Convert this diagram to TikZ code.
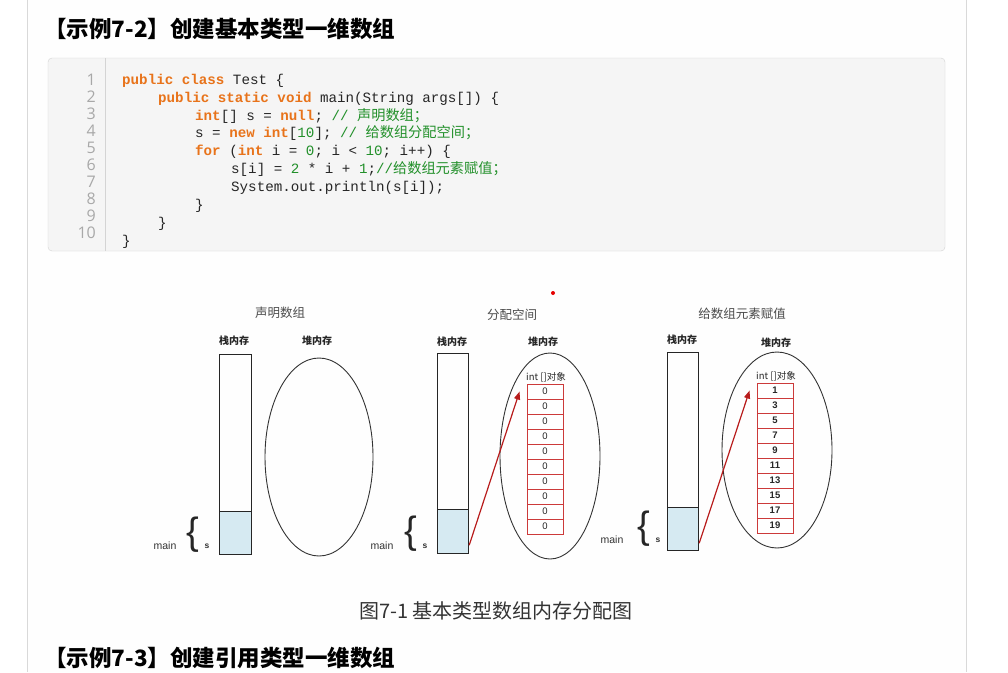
\documentclass[tikz,border=0pt]{standalone}
\usepackage{fontspec}
\setmainfont{Liberation Sans}
\newfontfamily\cjk{Noto Sans CJK SC}
\newfontfamily\codefont{Liberation Mono}
\newfontfamily\numfont{Open Sans}
\usetikzlibrary{arrows.meta,shapes.geometric}
\definecolor{kwc}{HTML}{E8731A}
\definecolor{cmc}{HTML}{22902A}
\definecolor{cellred}{HTML}{CC3A3A}
\definecolor{arrowred}{HTML}{B81C1C}
\definecolor{stackblue}{HTML}{D6EAF2}
\definecolor{codebg}{HTML}{F5F5F5}
\definecolor{codeborder}{HTML}{D4D4D4}
\definecolor{lnum}{HTML}{A8A8A8}
\definecolor{pagebg}{HTML}{FEFEFE}
\newcommand\kwd[1]{{\bfseries\color{kwc}#1}}
\newcommand\cmt[1]{{\color{cmc}#1}}
\tikzset{
  codeline/.style={anchor=base west, inner sep=0pt, font=\codefont\fontsize{14.2}{14.2}\selectfont, text=black!85},
  linenum/.style={anchor=base east, inner sep=0pt, font=\numfont\fontsize{16}{16}\selectfont, text=lnum},
  heading/.style={anchor=west, inner sep=0pt, font=\cjk\bfseries\fontsize{22.5}{22.5}\selectfont},
  ptitle/.style={inner sep=0pt, font=\cjk\fontsize{12.5}{12.5}\selectfont, text=black!70},
  memlabel/.style={inner sep=0pt, font=\cjk\bfseries\fontsize{10}{10}\selectfont, text=black!85},
  stackbox/.style={draw=black!85, line width=1.2pt, minimum width=32pt, minimum height=200pt, anchor=north west, inner sep=0pt},
  scell/.style={draw=black!85, line width=1.2pt, fill=stackblue, minimum width=32pt, minimum height=43pt, anchor=south west, inner sep=0pt},
  heap/.style={draw=black!80, line width=0.9pt, ellipse, inner sep=0pt},
  objlabel/.style={inner sep=0pt, font=\fontsize{9.5}{9.5}\selectfont\cjk, text=black!85},
  cell/.style={draw=cellred, line width=0.9pt, fill=white, minimum width=36pt, minimum height=15pt, inner sep=0pt, font=\bfseries\fontsize{9.5}{9.5}\selectfont, text=black!85},
  smalltxt/.style={inner sep=0pt, font=\fontsize{10.5}{10.5}\selectfont, text=black!80},
  svar/.style={inner sep=0pt, font=\bfseries\fontsize{8.5}{8.5}\selectfont, text=black!80},
  bracetxt/.style={inner sep=0pt, font=\fontsize{38}{38}\selectfont, text=black!85},
  refarrow/.style={draw=arrowred, line width=1.2pt, -{Triangle[length=8pt,width=6pt]}},
}
\begin{document}
\begin{tikzpicture}[x=1pt,y=-1pt]
\useasboundingbox (0,0) rectangle (1008,672);
\fill[white] (0,0) rectangle (1008,672);
\fill[pagebg] (27,0) rectangle (966,672);
\draw[black!15] (27,0) -- (27,672);
\draw[black!15] (966,0) -- (966,672);

% heading
\node[heading] (h1) at (44,29) {【示例7-2】创建基本类型一维数组};

% code box
\filldraw[fill=codebg, draw=codeborder, rounded corners=4pt] (48,58) rectangle (945,251);
\draw[codeborder] (105,58) -- (105,251);
\foreach \n [count=\i from 0] in {1,...,10}
  \node[linenum] (ln\n) at (96,85+17*\i) {\n};

\node[codeline] (c1) at (122,84) {\kwd{public class} Test \{};
\node[codeline] (c2) at (158,102) {\kwd{public static void} main(String args[]) \{};
\node[codeline] (c3) at (195,120) {\kwd{int}[] s = \kwd{null}; \cmt{// {\cjk 声明数组；}}};
\node[codeline] (c4) at (195,137.5) {s = \kwd{new int}[\cmt{10}]; \cmt{// {\cjk 给数组分配空间；}}};
\node[codeline] (c5) at (195,155.5) {\kwd{for} (\kwd{int} i = \cmt{0}; i < \cmt{10}; i++) \{};
\node[codeline] (c6) at (231,173) {s[i] = \cmt{2} * i + \cmt{1};\cmt{//{\cjk 给数组元素赋值；}}};
\node[codeline] (c7) at (231,191) {System.out.println(s[i]);};
\node[codeline] (c8) at (195,209) {\}};
\node[codeline] (c9) at (158,227) {\}};
\node[codeline] (c10) at (122,245) {\}};

% red dot
\fill[red!90!black] (553,293) circle (2pt);

% ---------- panel 1 ----------
\node[ptitle] (t1) at (280,313) {声明数组};
\node[memlabel] (sl1) at (234,341) {栈内存};
\node[memlabel] (hl1) at (317,341) {堆内存};
\node[stackbox] (st1) at (219,354) {};
\node[scell] (s1) at (st1.south west) {};
\node[heap, minimum width=108pt, minimum height=198pt] (hp1) at (319,457) {};
\node[smalltxt] (m1) at (165,546) {main};
\node[bracetxt] (b1) at (193,535) {\{};
\node[svar] (v1) at (207,546) {s};

% ---------- panel 2 ----------
\node[ptitle] (t2) at (512,315) {分配空间};
\node[memlabel] (sl2) at (452,342) {栈内存};
\node[memlabel] (hl2) at (543,342) {堆内存};
\node[stackbox, minimum width=31pt, minimum height=200pt] (st2) at (437,353) {};
\node[scell, minimum width=31pt, minimum height=44pt] (s2) at (st2.south west) {};
\node[heap, minimum width=100pt, minimum height=206pt] (hp2) at (550,456) {};
\node[objlabel] (o2) at (546,377) {int []对象};
\foreach \v [count=\i] in {0,0,0,0,0,0,0,0,0,0}
  \node[cell, font=\fontsize{9.5}{9.5}\selectfont] (a2-\i) at (545,376.5+15*\i) {\v};
\node[smalltxt] (m2) at (382,546) {main};
\node[bracetxt] (b2) at (411,534) {\{};
\node[svar] (v2) at (425,546) {s};
\draw[refarrow] ([yshift=9pt]s2.south east) -- ([xshift=-7pt,yshift=-8pt]a2-1.north west);

% ---------- panel 3 ----------
\node[ptitle] (t3) at (742,314) {给数组元素赋值};
\node[memlabel] (sl3) at (682,340) {栈内存};
\node[memlabel] (hl3) at (776,343) {堆内存};
\node[stackbox, minimum width=31pt, minimum height=198pt] (st3) at (667,352) {};
\node[scell, minimum width=31pt, minimum height=43pt] (s3) at (st3.south west) {};
\node[heap, minimum width=110pt, minimum height=196pt] (hp3) at (777,450) {};
\node[objlabel] (o3) at (776,376) {int []对象};
\foreach \v [count=\i] in {1,3,5,7,9,11,13,15,17,19}
  \node[cell] (a3-\i) at (775,375.5+15*\i) {\v};
\node[smalltxt] (m3) at (612,540) {main};
\node[bracetxt] (b3) at (644,529) {\{};
\node[svar] (v3) at (658,540) {s};
\draw[refarrow] ([yshift=8pt]s3.south east) -- ([xshift=-7pt,yshift=-8pt]a3-1.north west);

% caption
\node[inner sep=0pt, font=\cjk\fontsize{20}{20}\selectfont, text=black!80] (cap) at (496,611) {图7-1 基本类型数组内存分配图};

% next heading
\node[heading] (h2) at (44,658) {【示例7-3】创建引用类型一维数组};
\end{tikzpicture}
\end{document}
